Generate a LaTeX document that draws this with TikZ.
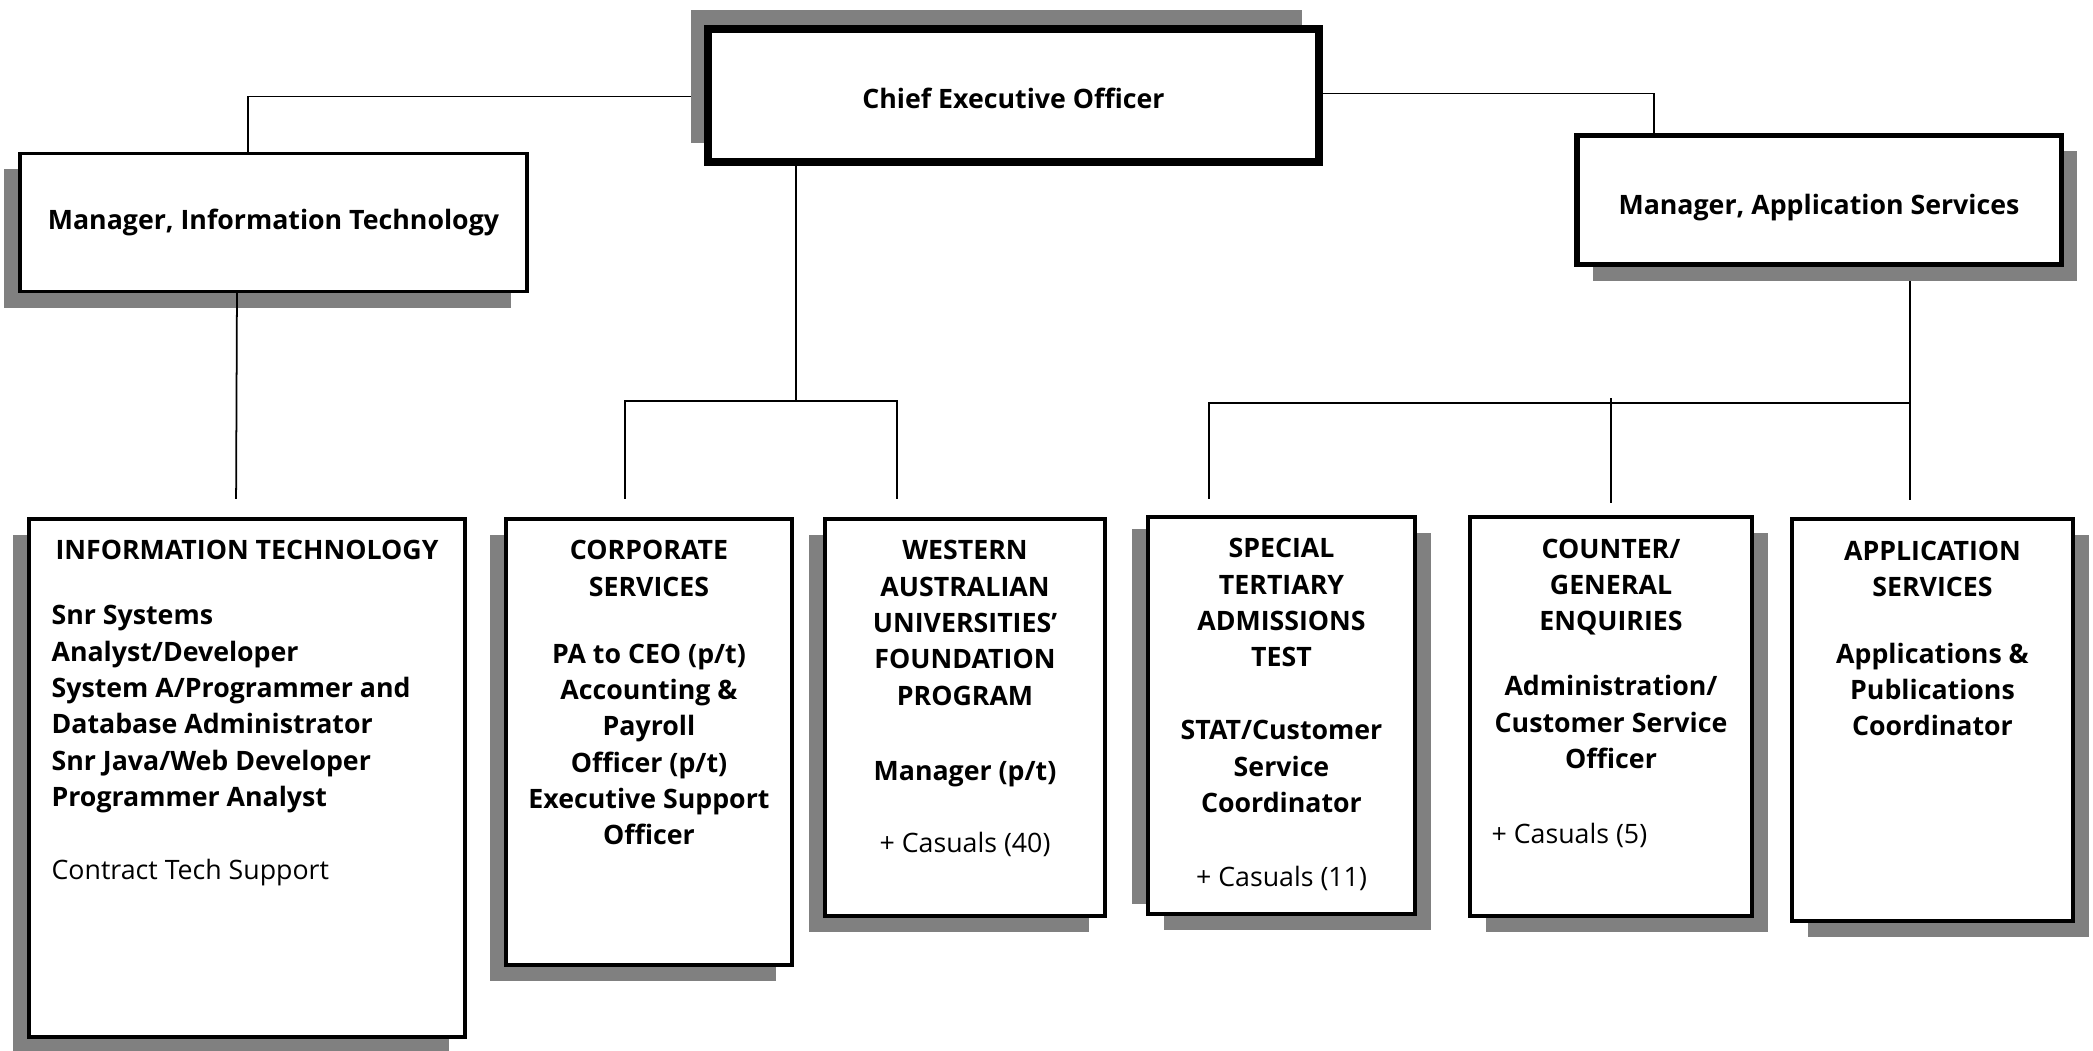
\documentclass[tikz,border=0pt]{standalone}
\usepackage{fontspec}
\setmainfont{Open Sans}
\usetikzlibrary{positioning, shadows, backgrounds}

\tikzset{
    boxtext/.style={inner sep=0pt, align=center, font=\fontsize{7.6}{10.33}\selectfont\bfseries},
    box/.style={boxtext, draw, fill=white, line width=1pt, outer sep=0pt},
    shadowleft/.style={drop shadow={shadow xshift=-0.16cm, shadow yshift=-0.16cm, fill=black!50, opacity=1}},
    shadowright/.style={drop shadow={shadow xshift=0.16cm, shadow yshift=-0.16cm, fill=black!50, opacity=1}},
    shadowceo/.style={drop shadow={shadow xshift=-0.17cm, shadow yshift=0.19cm, fill=black!50, opacity=1}},
    conn/.style={line width=0.5pt}
}

\begin{document}
\begin{tikzpicture}[x=0.01cm, y=-0.01cm]
        \useasboundingbox (0,0) rectangle (2093,1050);

        \node (ceo) [box, shadowceo, line width=2.2pt, minimum width=6.11cm, minimum height=1.33cm, text height=0.25cm, text depth=0pt] at (1013.5,95.5) {Chief Executive Officer};
        \node (mit) [box, shadowleft, minimum width=5.07cm, minimum height=1.38cm] at (273.5,222.5) {Manager, Information Technology};
        \node (mas) [box, shadowright, line width=1.5pt, minimum width=4.84cm, minimum height=1.29cm, text height=0.28cm, text depth=0pt] at (1819,200) {Manager, Application Services};

        \node (it) [box, shadowleft, minimum width=4.36cm, minimum height=5.18cm] at (247,778) {};
        \node (cs) [box, shadowleft, minimum width=2.86cm, minimum height=4.46cm] at (649,742) {};
        \node (wa) [box, shadowleft, minimum width=2.80cm, minimum height=3.97cm] at (965,717.5) {};
        \node (st) [box, shadowright, minimum width=2.67cm, minimum height=3.97cm] at (1281.5,715.5) {};
        \node (cg) [box, shadowright, minimum width=2.82cm, minimum height=3.99cm] at (1611,716.5) {};
        \node (ap) [box, shadowright, minimum width=2.81cm, minimum height=4.02cm] at (1932.5,720) {};

        \node (itT) [boxtext, below=0.21cm of it.north] {INFORMATION TECHNOLOGY};
        \node (itB) [boxtext, align=left, anchor=north west] at ([xshift=0.22cm, yshift=-0.86cm]it.north west)
            {Snr Systems\\Analyst/Developer\\System A/Programmer and\\Database Administrator\\Snr Java/Web Developer\\Programmer Analyst\\[10.4pt]{\mdseries Contract Tech Support}};
        \node (csT) [boxtext, below=0.21cm of cs.north]
            {CORPORATE\\SERVICES\\[8.7pt]PA to CEO (p/t)\\Accounting \&\\Payroll\\Officer (p/t)\\Executive Support\\Officer};
        \node (waT) [boxtext, below=0.21cm of wa.north]
            {WESTERN\\AUSTRALIAN\\UNIVERSITIES’\\FOUNDATION\\PROGRAM\\[11pt]Manager (p/t)\\[10.2pt]{\mdseries + Casuals (40)}};
        \node (stT) [boxtext, below=0.21cm of st.north]
            {SPECIAL\\TERTIARY\\ADMISSIONS\\TEST\\[10.4pt]STAT/Customer\\Service\\Coordinator\\[10.7pt]{\mdseries + Casuals (11)}};
        \node (cgT) [boxtext, below=0.21cm of cg.north]
            {COUNTER/\\GENERAL\\ENQUIRIES\\[8.2pt]Administration/\\Customer Service\\Officer};
        \node (cgC) [boxtext, anchor=north west] at ([xshift=0.21cm, yshift=-3.05cm]cg.north west) {\mdseries + Casuals (5)};
        \node (apT) [boxtext, below=0.21cm of ap.north]
            {APPLICATION\\SERVICES\\[8.7pt]Applications \&\\Publications\\Coordinator};

        \coordinate (csbus) at (796,401);
        \coordinate (asbus) at (1910,403);

        \begin{scope}[on background layer]
            \fill[black!50] ([xshift=-0.16cm, yshift=-0.12cm]st.north west) rectangle ([yshift=0.10cm]st.south west);

            \draw[conn] ([yshift=-0.01cm]ceo.west) -| ([xshift=-0.255cm]mit.north);
            \draw[conn] ([yshift=0.02cm]ceo.east) -| ([xshift=-1.65cm]mas.north);

            \draw[conn] (ceo.south -| csbus) -- (csbus);
            \draw[conn, shorten >=0.2cm] (csbus) -| ([xshift=-0.24cm]cs.north);
            \draw[conn, shorten >=0.2cm] (csbus) -| ([xshift=-0.68cm]wa.north);

            \draw[conn] (mas.south -| asbus) -- (asbus);
            \draw[conn, shorten >=0.19cm] (asbus) -- (asbus |- ap.north);
            \draw[conn, shorten >=0.18cm] (asbus) -| ([xshift=-0.725cm]st.north);
            \draw[conn, shorten >=0.14cm] ([yshift=0.05cm]asbus -| cg.north) -- (cg.north);
        \end{scope}

        \draw[conn, shorten >=0.2cm] ([xshift=-0.365cm]mit.south) -- ([xshift=-0.11cm]it.north);
\end{tikzpicture}
\end{document}
